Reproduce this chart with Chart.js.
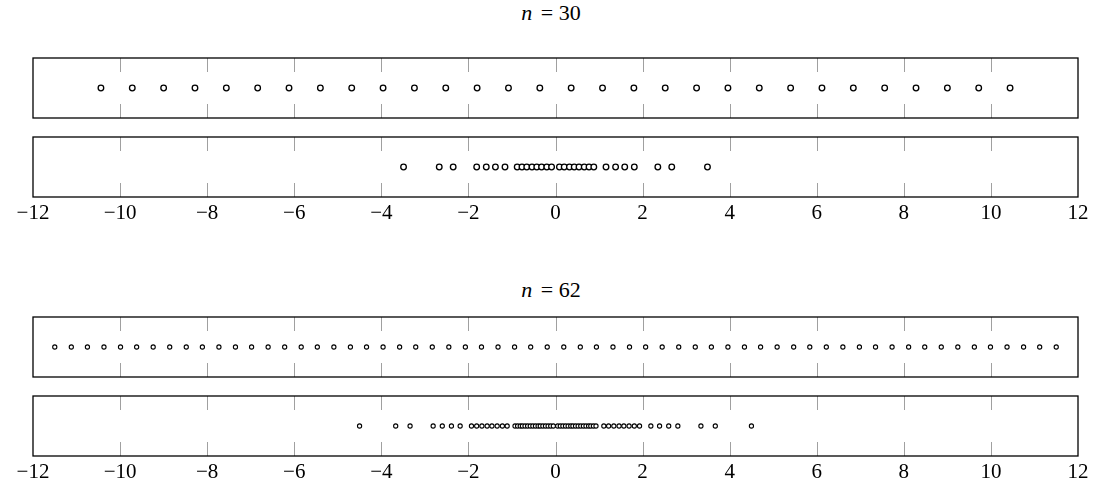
<!DOCTYPE html>
<html>
<head>
<meta charset="utf-8">
<script src="https://cdn.jsdelivr.net/npm/chart.js@4.4.0/dist/chart.umd.min.js"></script>
<style>
  body { margin:0; background:#fff; width:1102px; height:494px; position:relative; overflow:hidden; }
  .strip { position:absolute; left:0; width:1102px; }
  .title { position:absolute; left:0; width:1102px; text-align:center; font-family:"Liberation Serif", serif; font-size:22px; line-height:24px; color:#000; }
  .title i { margin-right:3px; }
</style>
</head>
<body>
<div class="title" style="top:1px"><i>n</i> = 30</div>
<div class="strip" style="top:56px;height:64px"><canvas id="s1"></canvas></div>
<div class="strip" style="top:135px;height:94px"><canvas id="s2"></canvas></div>
<div class="title" style="top:278px"><i>n</i> = 62</div>
<div class="strip" style="top:315px;height:64px"><canvas id="s3"></canvas></div>
<div class="strip" style="top:394px;height:94px"><canvas id="s4"></canvas></div>
<script>
// axis range
const xMin = -12, xMax = 12, xStep = 2;

// n = 30
const equi30 = [-10.44,-9.72,-9.00,-8.28,-7.56,-6.84,-6.12,-5.40,-4.68,-3.96,-3.24,-2.52,-1.80,-1.08,-0.36,
  0.36,1.08,1.80,2.52,3.24,3.96,4.68,5.40,6.12,6.84,7.56,8.28,9.00,9.72,10.44];
const cluster30 = [-3.49,-2.67,-2.35,-1.81,-1.59,-1.38,-1.16,-0.88,-0.77,-0.66,-0.54,-0.43,-0.32,-0.20,-0.09,
  0.09,0.20,0.32,0.43,0.54,0.66,0.77,0.88,1.16,1.38,1.59,1.81,2.35,2.67,3.49];

// n = 62
const equi62 = [-11.50,-11.12,-10.75,-10.37,-9.99,-9.62,-9.24,-8.86,-8.48,-8.11,-7.73,-7.35,-6.98,-6.60,-6.22,-5.84,
  -5.47,-5.09,-4.71,-4.34,-3.96,-3.58,-3.21,-2.83,-2.45,-2.07,-1.70,-1.32,-0.94,-0.57,-0.19,
  0.19,0.57,0.94,1.32,1.70,2.07,2.45,2.83,3.21,3.58,3.96,4.34,4.71,5.09,5.47,
  5.84,6.22,6.60,6.98,7.35,7.73,8.11,8.48,8.86,9.24,9.62,9.99,10.37,10.75,11.12,11.50];
const cluster62 = [-4.50,-3.67,-3.34,-2.81,-2.60,-2.39,-2.19,-1.93,-1.81,-1.69,-1.57,-1.46,-1.34,-1.22,-1.11,
  -0.93,-0.87,-0.81,-0.76,-0.70,-0.64,-0.58,-0.52,-0.46,-0.40,-0.35,-0.29,-0.23,-0.17,-0.11,-0.05,
  0.05,0.11,0.17,0.23,0.29,0.35,0.40,0.46,0.52,0.58,0.64,0.70,0.76,0.81,0.87,0.93,
  1.11,1.22,1.34,1.46,1.57,1.69,1.81,1.93,2.19,2.39,2.60,2.81,3.34,3.67,4.50];

// 박스 테두리 + 안쪽 눈금
const stripFrame = {
  id: 'stripFrame',
  beforeDatasetsDraw(chart) {
    const {ctx, chartArea: a, scales: {x}} = chart;
    ctx.save();
    ctx.strokeStyle = '#a0a0a0';
    ctx.lineWidth = 1;
    x.ticks.forEach(t => {
      if (t.value <= xMin || t.value >= xMax) return;
      const px = Math.round(x.getPixelForValue(t.value)) + 0.5;
      ctx.beginPath();
      ctx.moveTo(px, a.top); ctx.lineTo(px, a.top + 14);
      ctx.moveTo(px, a.bottom); ctx.lineTo(px, a.bottom - 14);
      ctx.stroke();
    });
    ctx.restore();
  },
  afterDraw(chart) {
    const {ctx, chartArea: a} = chart;
    ctx.save();
    ctx.strokeStyle = '#000';
    ctx.lineWidth = 1.3;
    ctx.strokeRect(a.left, a.top, a.right - a.left, a.bottom - a.top);
    ctx.restore();
  }
};

function makeStrip(id, values, radius, showLabels) {
  new Chart(document.getElementById(id), {
    type: 'scatter',
    data: {
      datasets: [{
        data: values.map(v => ({x: v, y: 0})),
        pointStyle: 'circle',
        pointRadius: radius,
        pointBackgroundColor: '#fff',
        pointBorderColor: '#000',
        pointBorderWidth: radius > 2.5 ? 1.3 : 1.1
      }]
    },
    options: {
      responsive: true,
      maintainAspectRatio: false,
      animation: false,
      events: [],
      layout: {autoPadding: false, padding: {top: 2, bottom: showLabels ? 0 : 2, left: 33, right: 24}},
      plugins: {legend: {display: false}, tooltip: {enabled: false}},
      scales: {
        x: {
          type: 'linear',
          min: xMin, max: xMax,
          grid: {display: false, drawTicks: false},
          border: {display: false},
          ticks: {
            display: showLabels,
            stepSize: xStep,
            autoSkip: false,
            maxRotation: 0,
            padding: 4,
            color: '#000',
            font: {family: '"Liberation Serif", serif', size: 21},
            callback: v => (v < 0 ? '\u2212' + Math.abs(v) : String(v))
          },
          afterFit: s => { s.height = showLabels ? 32 : 0; }
        },
        y: {min: -1, max: 1, display: false}
      }
    },
    plugins: [stripFrame]
  });
}

makeStrip('s1', equi30, 2.8, false);
makeStrip('s2', cluster30, 2.8, true);
makeStrip('s3', equi62, 2.1, false);
makeStrip('s4', cluster62, 2.1, true);
</script>
</body>
</html>
